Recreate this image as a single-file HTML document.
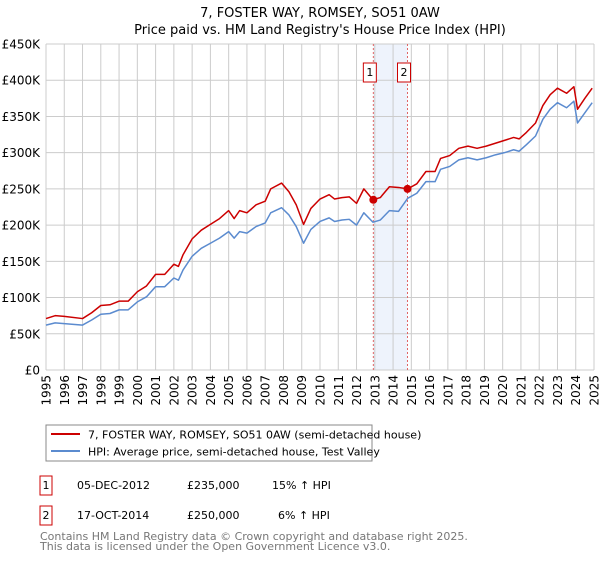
<!DOCTYPE html>
<html><head><meta charset="utf-8"><style>
body{margin:0;background:#fff;font-family:"DejaVu Sans","Liberation Sans",sans-serif;}
svg text{font-family:"DejaVu Sans","Liberation Sans",sans-serif;}
</style></head><body>
<svg id="c" width="600" height="560" xmlns="http://www.w3.org/2000/svg">
<text x="320" y="17" font-size="13" text-anchor="middle">7, FOSTER WAY, ROMSEY, SO51 0AW</text>
<text x="320" y="34" font-size="13" text-anchor="middle">Price paid vs. HM Land Registry's House Price Index (HPI)</text>
<g id="grid"></g><g id="marks"></g><g id="axes"></g>
<g>
<rect x="46" y="425" width="326" height="36" fill="#fff" stroke="#888"/>
<line x1="51" y1="434" x2="80" y2="434" stroke="#cc0000" stroke-width="2"/>
<text x="88" y="438.5" font-size="11">7, FOSTER WAY, ROMSEY, SO51 0AW (semi-detached house)</text>
<line x1="51" y1="451" x2="80" y2="451" stroke="#5b8bcf" stroke-width="2"/>
<text x="88" y="455.5" font-size="11">HPI: Average price, semi-detached house, Test Valley</text>
</g>
<g font-size="11">
<rect x="40" y="476" width="12" height="19" fill="#fff" stroke="#cc0000"/>
<text x="46" y="489" text-anchor="middle">1</text>
<text x="77" y="489">05-DEC-2012</text>
<text x="187" y="489">£235,000</text>
<text x="272" y="489">15% ↑ HPI</text>
<rect x="40" y="506" width="12" height="19" fill="#fff" stroke="#cc0000"/>
<text x="46" y="519" text-anchor="middle">2</text>
<text x="77" y="519">17-OCT-2014</text>
<text x="187" y="519">£250,000</text>
<text x="278" y="519">6% ↑ HPI</text>
</g>
<text x="40" y="540" font-size="11" fill="#777">Contains HM Land Registry data © Crown copyright and database right 2025.</text>
<text x="40" y="550" font-size="11" fill="#777">This data is licensed under the Open Government Licence v3.0.</text>
</svg>
<script>
const hpiYears=[1995,1995.5,1996,1997,1997.5,1998,1998.5,1999,1999.5,2000,2000.5,2001,2001.5,2002,2002.25,2002.5,2003,2003.5,2004,2004.5,2005,2005.3,2005.6,2006,2006.5,2007,2007.3,2007.9,2008.3,2008.7,2009.1,2009.5,2010,2010.5,2010.8,2011.2,2011.6,2012,2012.4,2012.9,2013.3,2013.8,2014.3,2014.8,2015.3,2015.8,2016.3,2016.6,2017.1,2017.6,2018.1,2018.6,2019.1,2019.6,2020.1,2020.6,2020.9,2021.3,2021.8,2022.2,2022.6,2023,2023.5,2023.9,2024.1,2024.5,2024.9];
const hpiValues=[62,65,64,62,69,77,78,83,83,94,101,115,115,127,124,138,157,168,175,182,191,182,191,189,198,203,217,224,214,198,175,194,205,210,205,207,208,200,217,204,207,220,219,237,244,260,260,277,281,290,293,290,293,297,300,304,302,311,323,346,360,369,362,371,341,355,369];
const priceValues=[71,75,74,71,79,89,90,95,95,108,116,132,132,146,143,159,181,193,201,209,220,209,220,217,228,233,250,258,246,228,201,223,236,242,236,238,239,230,250,235,238,253,252,250,257,274,274,292,296,306,309,306,309,313,317,321,319,328,341,365,380,389,382,391,360,375,389];
const saleYears=[2012.92,2014.79];
const salePrices=[235,250];
const yTicks=[0,50,100,150,200,250,300,350,400,450];
const yTickLabels=["£0","£50K","£100K","£150K","£200K","£250K","£300K","£350K","£400K","£450K"];
const xTicks=[1995,1996,1997,1998,1999,2000,2001,2002,2003,2004,2005,2006,2007,2008,2009,2010,2011,2012,2013,2014,2015,2016,2017,2018,2019,2020,2021,2022,2023,2024,2025];
const X0=46,X1=594,Y0=370,Y1=44;
const xs=v=>X0+(v-1995)/30*(X1-X0);
const ys=v=>Y0-v/450*(Y0-Y1);
const NS="http://www.w3.org/2000/svg";
function mk(tag,attrs,parent){const e=document.createElementNS(NS,tag);for(const k in attrs)e.setAttribute(k,attrs[k]);parent.appendChild(e);return e;}
const grid=document.getElementById('grid'),marks=document.getElementById('marks'),axes=document.getElementById('axes');
const band=mk('rect',{x:xs(saleYears[0]),y:Y1,width:xs(saleYears[1])-xs(saleYears[0]),height:Y0-Y1,fill:'#eef3fc'},grid);


yTicks.forEach((t,i)=>{
 const l=mk('line',{x1:X0,x2:X1,y1:ys(t),y2:ys(t),stroke:'#cccccc'},grid);
 
 
 const tx=mk('text',{x:40,y:ys(t)+4.5,'font-size':12,'text-anchor':'end'},axes);
 tx.textContent=yTickLabels[i];
 
 
});
xTicks.forEach(t=>{
 const l=mk('line',{x1:xs(t),x2:xs(t),y1:Y1,y2:Y0,stroke:'#cccccc'},grid);
 
 
 const tx=mk('text',{x:0,y:0,'font-size':12,'text-anchor':'end',transform:`translate(${xs(t)+4.5},375) rotate(-90)`},axes);
 tx.textContent=t;
 
 
});
saleYears.forEach((s,i)=>{
 const l=mk('line',{x1:xs(s),x2:xs(s),y1:Y1,y2:Y0,stroke:'#e06666','stroke-dasharray':'2,2'},grid);
 
 
 const r=mk('rect',{x:xs(s)-10,y:63,width:13,height:19,fill:'#fff',stroke:'#cc0000'},grid);
 
 
 const tx=mk('text',{x:xs(s)-3.5,y:76,'font-size':11,'text-anchor':'middle'},grid);
 tx.textContent=String(i+1);
 
 
});
const line=(ys_,vals,col,name)=>{
 const p=mk('polyline',{points:ys_.map((y,i)=>xs(y)+','+ys(vals[i])).join(' '),fill:'none',stroke:col,'stroke-width':1.5,'stroke-linejoin':'round'},marks);
 
 
};
line(hpiYears,hpiValues,'#5b8bcf','hpi-line');
line(hpiYears,priceValues,'#cc0000','property-price-line');
saleYears.forEach((s,i)=>{
 const c=mk('circle',{cx:xs(s),cy:ys(salePrices[i]),r:4,fill:'#cc0000'},marks);
 
 
});
</script>
</body></html>
